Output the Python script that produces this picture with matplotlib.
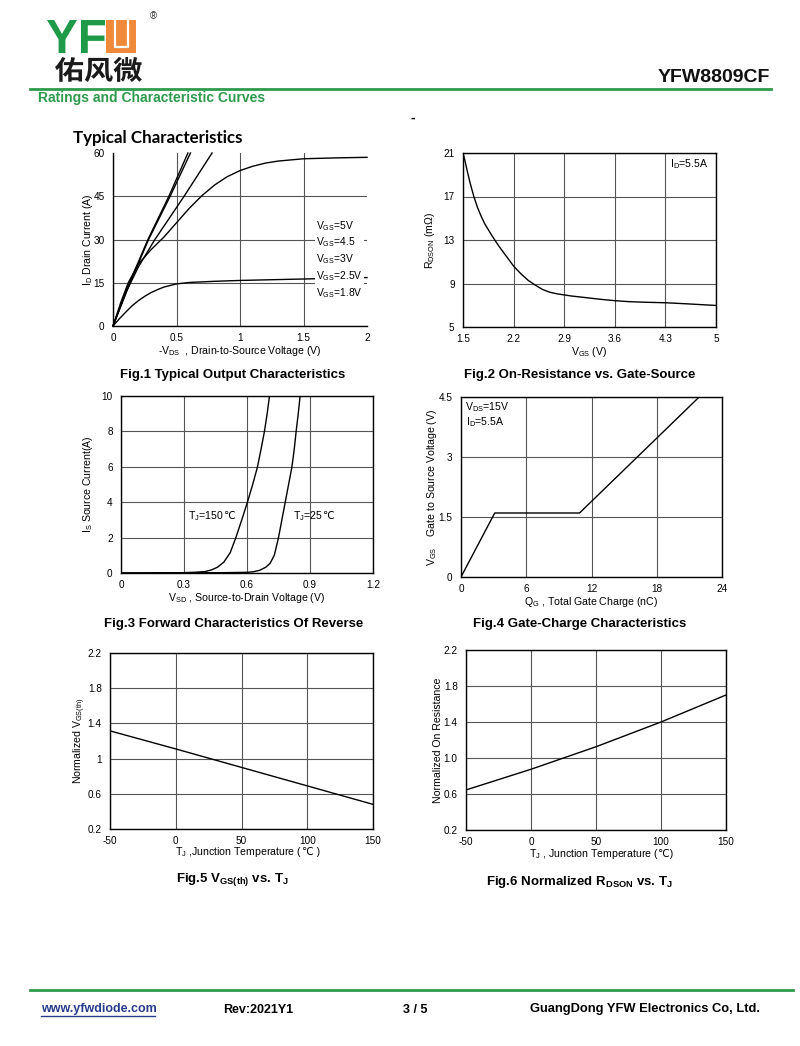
import matplotlib
matplotlib.use("Agg")
import matplotlib.pyplot as plt
from matplotlib.font_manager import FontProperties
from matplotlib.patches import PathPatch, Rectangle
from matplotlib.textpath import TextPath
from matplotlib.transforms import Affine2D

plt.rcParams["font.family"] = ["Liberation Sans", "DejaVu Sans"]
plt.rcParams["mathtext.fontset"] = "custom"
plt.rcParams["mathtext.rm"] = "Liberation Sans"
plt.rcParams["mathtext.bf"] = "Liberation Sans:bold"

W, H = 800, 1046
GREEN = "#2e9a4c"
GRID = "#555555"
DEG_C = "\u2103"

# %% Fig.1 output characteristics (VDS in V, ID in A)
vds_5v = [0, 0.12, 0.275, 0.44, 0.59]
id_5v = [0, 14, 30, 45, 60]
vds_45v = [0, 0.13, 0.28, 0.45, 0.61]
id_45v = [0, 14.5, 30, 45, 60]
vds_3v = [0, 0.1, 0.2, 0.33, 0.56, 0.78]
id_3v = [0, 11.5, 20.5, 30, 45, 60]
vds_25v = [0, 0.06, 0.12, 0.2, 0.3, 0.4, 0.5, 0.6, 0.7, 0.8, 0.9, 1.0, 1.1, 1.2, 1.3, 1.5, 1.75, 2.0]
id_25v = [0, 8, 15, 21.5, 26.5, 30.8, 35.8, 40.8, 45.2, 48.9, 51.8, 53.9, 55.4, 56.5, 57.2, 58, 58.3, 58.5]
vds_18v = [0, 0.05, 0.1, 0.15, 0.2, 0.25, 0.3, 0.35, 0.4, 0.5, 0.6, 0.8, 1.0, 1.5, 2.0]
id_18v = [0, 2.5, 4.8, 7, 8.8, 10.3, 11.6, 12.6, 13.5, 14.6, 15.1, 15.5, 15.8, 16.3, 16.8]
fig1_labels = ["5V", "4.5", "3V", "2.5V", "1.8V"]

# %% Fig.2 on-resistance vs gate-source
vgs = [1.5, 1.53, 1.56, 1.6, 1.65, 1.7, 1.75, 1.8, 1.9, 2.0, 2.1, 2.2, 2.3, 2.4, 2.5,
       2.6, 2.7, 2.8, 2.9, 3.0, 3.2, 3.4, 3.6, 3.8, 4.0, 4.3, 4.6, 5.0]
rdson = [21, 20.2, 19.3, 18.2, 17.0, 16.0, 15.2, 14.5, 13.4, 12.4, 11.5, 10.6, 9.9, 9.3, 8.85,
         8.45, 8.2, 8.05, 7.95, 7.85, 7.7, 7.55, 7.42, 7.33, 7.28, 7.23, 7.13, 6.98]

# %% Fig.3 body diode forward characteristics
vsd_150 = [0, 0.2, 0.3, 0.35, 0.4, 0.43, 0.46, 0.49, 0.52, 0.547, 0.575, 0.602,
           0.627, 0.650, 0.667, 0.683, 0.696, 0.707]
is_150 = [0, 0.01, 0.02, 0.04, 0.08, 0.17, 0.33, 0.62, 1.15, 2, 3, 4, 5, 6, 7, 8, 9, 10]
vsd_25 = [0, 0.3, 0.5, 0.6, 0.63, 0.66, 0.69, 0.71, 0.73, 0.75, 0.766, 0.782,
          0.798, 0.814, 0.825, 0.834, 0.844, 0.853]
is_25 = [0, 0.01, 0.02, 0.04, 0.07, 0.15, 0.33, 0.55, 1.0, 2, 3, 4, 5, 6, 7, 8, 9, 10]

# %% Fig.4 gate charge
qg = [0, 3.1, 10.9, 21.9]
vgs_q = [0, 1.6, 1.6, 4.5]

# %% Fig.5 / Fig.6 temperature dependence
tj = [-50, 0, 50, 100, 150]
vth_norm = [1.315, 1.11, 0.9, 0.69, 0.48]
rds_norm = [0.645, 0.875, 1.125, 1.40, 1.70]

fig = plt.figure(figsize=(W / 100, H / 100), dpi=100)

# page layer in pixel coordinates
pg = fig.add_axes([0, 0, 1, 1])
pg.set_xlim(0, W)
pg.set_ylim(H, 0)
pg.axis("off")


def fit_text(s, x0, x1, y0, y1, color, fp):
    path = TextPath((0, 0), s, size=1, prop=fp)
    ext = path.get_extents()
    tr = (Affine2D().translate(-ext.x0, -ext.y0)
          .scale((x1 - x0) / ext.width, -(y1 - y0) / ext.height)
          .translate(x0, y1))
    pg.add_patch(PathPatch(tr.transform_path(path), fc=color, ec="none"))


def append_text(ax, anchor, s, size):
    # plain text (no mathtext) so the glyph can fall back to DejaVu Sans
    ax.annotate(s, xy=(1, 0.5), xycoords=anchor, va="center", ha="left",
                fontsize=size, annotation_clip=False)


# logo
fit_text("YF", 47, 105, 20, 53, "#1f9a48", FontProperties(family="Liberation Sans", weight="bold"))
pg.add_patch(Rectangle((106, 20), 30, 33, fc="#ef8a3b", ec="none"))
pg.plot([114.5, 114.5, 127.5, 127.5], [20, 46.5, 46.5, 20], color="white", lw=1.6)
pg.text(153, 16, "®", fontsize=7, ha="center", va="center", color="#333")
fit_text("佑风微", 55, 142, 57, 82, "#1a1a1a", FontProperties(family="Noto Sans CJK SC", weight="bold"))

pg.text(770, 77, "YFW8809CF", fontsize=14, fontweight="bold", ha="right", va="center", color="#111")
pg.plot([30, 771], [88.5, 88.5], color=GREEN, lw=2)
pg.text(38, 98, "Ratings and Characteristic Curves", fontsize=10, fontweight="bold",
        color=GREEN, va="center")
pg.text(413, 118, "-", fontsize=10, fontweight="bold", ha="center", va="center")
pg.text(73, 138, "Typical Characteristics", fontsize=12.2, fontweight="bold",
        family="Lato", va="center")

# footer
pg.plot([30, 793], [989.5, 989.5], color=GREEN, lw=2)
pg.text(41, 1009, "www.yfwdiode.com", fontsize=9, fontweight="bold", color="#283c8c", va="center")
pg.plot([41, 155], [1016, 1016], color="#283c8c", lw=1)
pg.text(223, 1010, "Rev:2021Y1", fontsize=9, fontweight="bold", va="center")
pg.text(403, 1010, "3 / 5", fontsize=9, fontweight="bold", va="center")
pg.text(530, 1009, "GuangDong YFW Electronics Co, Ltd.", fontsize=9.3, fontweight="bold", va="center")


def make_ax(px, xlim, ylim, xticks, yticks, xlabels, ylabels, box=True):
    x0, x1, y0, y1 = px
    ax = fig.add_axes([x0 / W, 1 - y1 / H, (x1 - x0) / W, (y1 - y0) / H])
    ax.set_xlim(xlim)
    ax.set_ylim(ylim)
    ax.set_xticks(xticks, xlabels)
    ax.set_yticks(yticks, ylabels)
    ax.grid(True, color=GRID, lw=0.8)
    ax.tick_params(length=0, labelsize=7.2)
    ax.tick_params(axis="x", pad=5)
    ax.tick_params(axis="y", pad=6)
    for sp in ax.spines.values():
        sp.set_linewidth(1.0)
    if not box:
        ax.spines["top"].set_visible(False)
        ax.spines["right"].set_visible(False)
        ax.xaxis.get_major_ticks()[-1].gridline.set_visible(False)
        ax.yaxis.get_major_ticks()[-1].gridline.set_visible(False)
    return ax


def labels(ax, px, xl, yl, xl_y, yl_x):
    x0, x1, y0, y1 = px
    ax.set_xlabel(xl, fontsize=7.6, va="center")
    ax.set_ylabel(yl, fontsize=7.6, va="center")
    ax.xaxis.set_label_coords(0.5, (y1 - xl_y) / (y1 - y0))
    ax.yaxis.set_label_coords((yl_x - x0) / (x1 - x0), 0.5)


LW = 1.0

# Fig.1
p1 = (113, 367, 153, 326)
ax1 = make_ax(p1, (0, 2), (0, 60), [0, 0.5, 1, 1.5, 2], [0, 15, 30, 45, 60],
              ["0", "0.5", "1", "1.5", "2"], ["0", "15", "30", "45", "60"], box=False)
for xs, ys in [(vds_5v, id_5v), (vds_45v, id_45v), (vds_3v, id_3v),
               (vds_25v, id_25v), (vds_18v, id_18v)]:
    ax1.plot(xs, ys, color="black", lw=LW, clip_on=False)
ax1.text(1.6, 23.1, "\n".join("$\\mathregular{V_{GS}}$=" + s for s in fig1_labels),
         fontsize=7.4, va="center", ha="left", linespacing=1.3,
         bbox=dict(fc="white", ec="none", pad=1.0))
labels(ax1, p1, "-$\\mathregular{V_{DS}}$  , Drain-to-Source Voltage (V)",
       "$\\mathregular{I_D}$ Drain Current (A)", 351, 88)

# Fig.2
p2 = (463, 716, 153, 327)
ax2 = make_ax(p2, (1.5, 5), (5, 21), [1.5, 2.2, 2.9, 3.6, 4.3, 5], [5, 9, 13, 17, 21],
              ["1.5", "2.2", "2.9", "3.6", "4.3", "5"], ["5", "9", "13", "17", "21"])
ax2.plot(vgs, rdson, color="black", lw=LW)
ax2.text(4.36, 20.0, "$\\mathregular{I_D}$=5.5A", fontsize=7.6, va="center")
labels(ax2, p2, "$\\mathregular{V_{GS}}$ (V)", "$\\mathregular{R_{DSON}}$ (m\u03a9)", 352, 430)

# Fig.3
p3 = (121, 373, 396, 573)
ax3 = make_ax(p3, (0, 1.2), (0, 10), [0, 0.3, 0.6, 0.9, 1.2], [0, 2, 4, 6, 8, 10],
              ["0", "0.3", "0.6", "0.9", "1.2"], ["0", "2", "4", "6", "8", "10"])
ax3.plot(vsd_150, is_150, color="black", lw=LW)
ax3.plot(vsd_25, is_25, color="black", lw=LW)
t150 = ax3.text(0.321, 3.2, "$\\mathregular{T_J}$=150", fontsize=7.6, va="center")
append_text(ax3, t150, DEG_C, 7.6)
t25 = ax3.text(0.818, 3.2, "$\\mathregular{T_J}$=25", fontsize=7.6, va="center")
append_text(ax3, t25, DEG_C, 7.6)
labels(ax3, p3, "$\\mathregular{V_{SD}}$ , Source-to-Drain Voltage (V)",
       "$\\mathregular{I_S}$ Source Current(A)", 598, 88)

# Fig.4
p4 = (461, 722, 397, 577)
ax4 = make_ax(p4, (0, 24), (0, 4.5), [0, 6, 12, 18, 24], [0, 1.5, 3, 4.5],
              ["0", "6", "12", "18", "24"], ["0", "1.5", "3", "4.5"])
ax4.plot(qg, vgs_q, color="black", lw=LW)
ax4.text(0.37, 4.25, "$\\mathregular{V_{DS}}$=15V", fontsize=7.6, va="center")
ax4.text(0.5, 3.88, "$\\mathregular{I_D}$=5.5A", fontsize=7.6, va="center")
labels(ax4, p4, "$\\mathregular{Q_G}$ , Total Gate Charge (nC)",
       "$\\mathregular{V_{GS}}$    Gate to Source Voltage (V)", 602, 432)

# Fig.5
t_ticks = [-50, 0, 50, 100, 150]
t_labels = ["-50", "0", "50", "100", "150"]
n_ticks = [0.2, 0.6, 1.0, 1.4, 1.8, 2.2]
p5 = (110, 373, 653, 829)
ax5 = make_ax(p5, (-50, 150), (0.2, 2.2), t_ticks, n_ticks, t_labels,
              ["0.2", "0.6", "1", "1.4", "1.8", "2.2"])
ax5.plot(tj, vth_norm, color="black", lw=LW)
labels(ax5, p5, "$\\mathregular{T_J}$ ,Junction Temperature (",
       "Normalized $\\mathregular{V_{GS(th)}}$", 852, 80)
ax5.xaxis.label.set_x(0.49)
append_text(ax5, ax5.xaxis.label, DEG_C + " )", 7.6)

# Fig.6
p6 = (466, 726, 650, 830)
ax6 = make_ax(p6, (-50, 150), (0.2, 2.2), t_ticks, n_ticks, t_labels,
              ["0.2", "0.6", "1.0", "1.4", "1.8", "2.2"])
ax6.plot(tj, rds_norm, color="black", lw=LW)
labels(ax6, p6, "$\\mathregular{T_J}$ , Junction Temperature (",
       "Normalized On Resistance", 854, 438)
ax6.xaxis.label.set_x(0.49)
append_text(ax6, ax6.xaxis.label, DEG_C + ")", 7.6)

# captions
cap = dict(fontsize=9.5, fontweight="bold", ha="center", va="center")
pg.text(233, 375, "Fig.1 Typical Output Characteristics", **cap)
pg.text(580, 375, "Fig.2 On-Resistance vs. Gate-Source", **cap)
pg.text(234, 624, "Fig.3 Forward Characteristics Of Reverse", **cap)
pg.text(580, 624, "Fig.4 Gate-Charge Characteristics", **cap)
pg.text(232, 879, "Fig.5 $\\mathregular{V_{GS(th)}}$ vs. $\\mathregular{T_J}$", **cap)
pg.text(579, 882, "Fig.6 Normalized $\\mathregular{R_{DSON}}$ vs. $\\mathregular{T_J}$", **cap)

fig.savefig("out.png", dpi=100)
